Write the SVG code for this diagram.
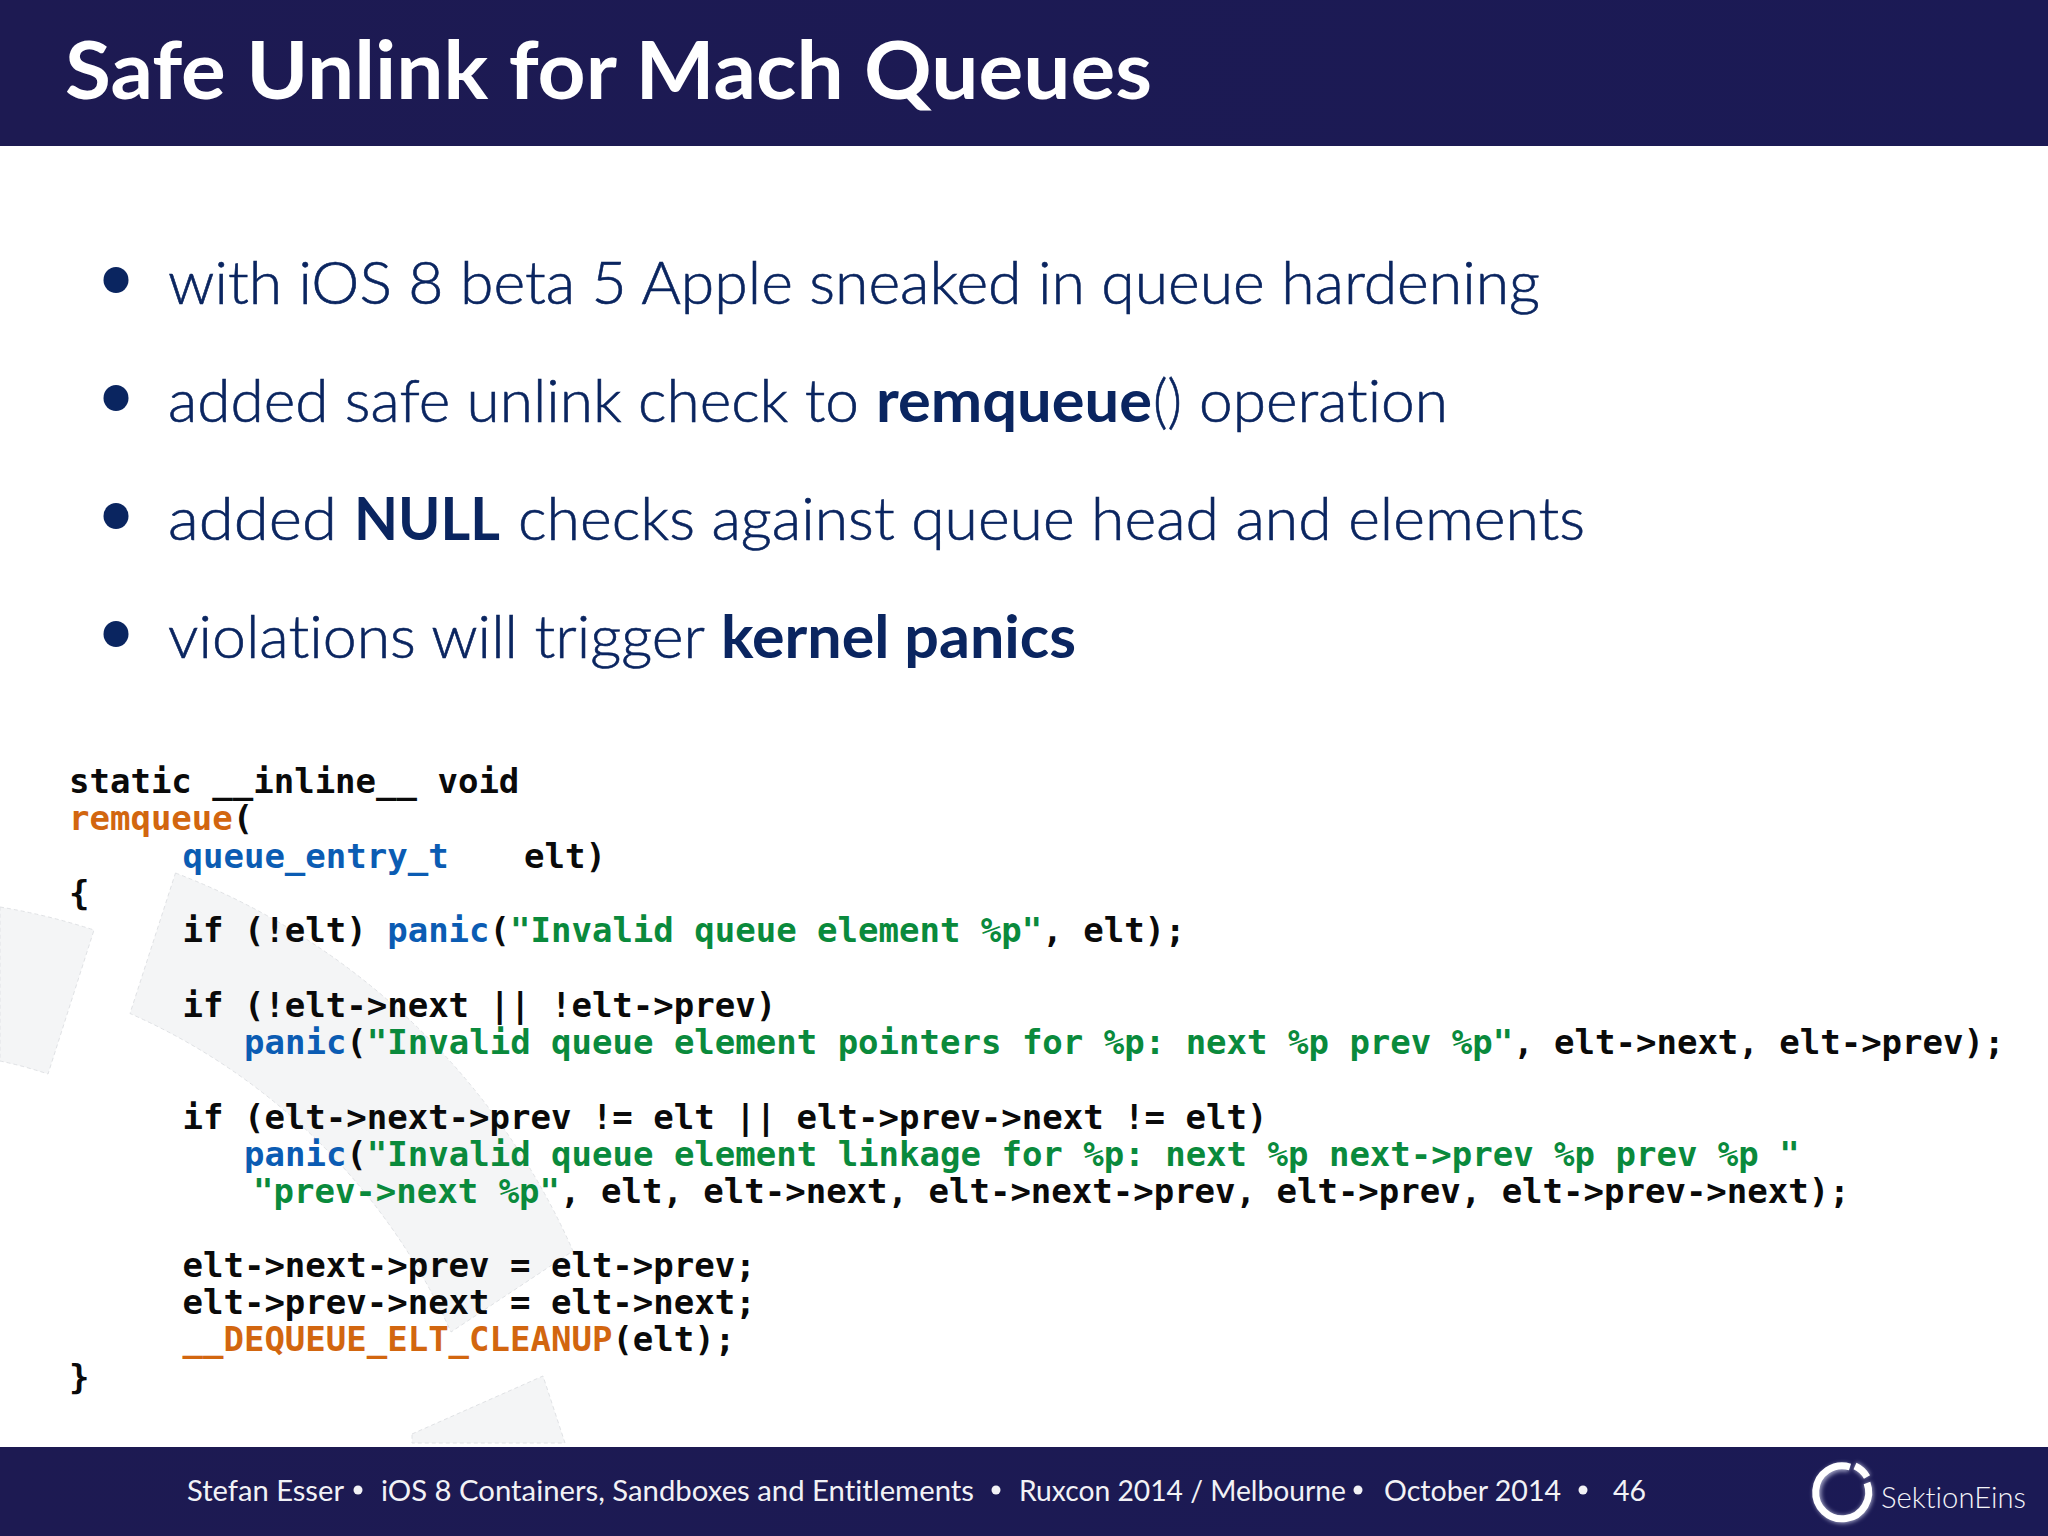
<svg xmlns="http://www.w3.org/2000/svg" width="2048" height="1536" viewBox="0 0 2048 1536">
<defs>
<linearGradient id="bar" x1="0" y1="0" x2="1" y2="0"><stop offset="0" stop-color="#1d1a52"/><stop offset="1" stop-color="#1b1a55"/></linearGradient>
<filter id="glow" x="-30%" y="-30%" width="160%" height="160%"><feGaussianBlur stdDeviation="2"/></filter>
</defs>
<style>
.t{font-family:"Lato","Liberation Sans",sans-serif;font-variant-ligatures:none}
.b{font-size:60px;fill:#0a2560;font-weight:300;stroke:#0a2560;stroke-width:.6;white-space:pre}
.s{font-weight:700;stroke:none}
.c{font-family:"DejaVu Sans Mono","Liberation Mono",monospace;font-size:34px;font-weight:700;fill:#0a0a0a;white-space:pre}
.o{fill:#d2660f}.l{fill:#0b5cb3}.g{fill:#0a8a3c}
.f{font-size:28px;fill:#f2f2f6;font-weight:400}
.sh{fill:#f4f5f6;stroke:#e0e2e5;stroke-width:1;stroke-dasharray:4 3}
</style>
<rect width="2048" height="1536" fill="#fff"/>
<g id="watermark">
<path class="sh" d="M0 907Q48 915 94 930L48 1074Q24 1066 0 1061Z"/>
<path class="sh" d="M175.500 873A712 712 0 0 1 573 1251L451 1332A632 632 0 0 0 130 1013.500Z"/>
<path class="sh" d="M412 1434L543 1376L565 1443H412Z"/>
</g>
<g id="header">
<rect width="2048" height="146" fill="url(#bar)"/>
<text class="t" x="65" y="99" font-size="80" font-weight="700" fill="#fff" textLength="1087" lengthAdjust="spacingAndGlyphs">Safe Unlink for Mach Queues</text>
</g>
<g id="bullets">
<ellipse cx="116" cy="280" rx="12.5" ry="13" fill="#0a2560"/>
<ellipse cx="116" cy="398" rx="12.5" ry="13" fill="#0a2560"/>
<ellipse cx="116" cy="516" rx="12.5" ry="13" fill="#0a2560"/>
<ellipse cx="116" cy="634" rx="12.5" ry="13" fill="#0a2560"/>
<text class="t b" x="168" y="304" textLength="1372" lengthAdjust="spacingAndGlyphs">with iOS 8 beta 5 Apple sneaked in queue hardening</text>
<text class="t b" x="168" y="422" textLength="691" lengthAdjust="spacingAndGlyphs">added safe unlink check to</text>
<text class="t b s" x="876" y="422" textLength="276" lengthAdjust="spacingAndGlyphs">remqueue</text>
<text class="t b" x="1153" y="422" textLength="29" lengthAdjust="spacingAndGlyphs">()</text>
<text class="t b" x="1199" y="422" textLength="249" lengthAdjust="spacingAndGlyphs">operation</text>
<text class="t b" x="168" y="540" textLength="169" lengthAdjust="spacingAndGlyphs">added</text>
<text class="t b s" x="354" y="540" textLength="146" lengthAdjust="spacingAndGlyphs">NULL</text>
<text class="t b" x="518" y="540" textLength="1067" lengthAdjust="spacingAndGlyphs">checks against queue head and elements</text>
<text class="t b" x="168" y="658" textLength="537" lengthAdjust="spacingAndGlyphs">violations will trigger</text>
<text class="t b s" x="721" y="658" textLength="355" lengthAdjust="spacingAndGlyphs">kernel panics</text>
</g>
<g id="code">
<text class="c" x="69" y="793">static __inline__ void</text>
<text class="c" x="69" y="830"><tspan class="o">remqueue</tspan>(</text>
<text class="c" x="182.500" y="867.500"><tspan class="l">queue_entry_t</tspan></text>
<text class="c" x="524" y="867.500">elt)</text>
<text class="c" x="69" y="905">{</text>
<text class="c" x="182.500" y="942">if (!elt) <tspan class="l">panic</tspan>(<tspan class="g">"Invalid queue element %p"</tspan>, elt);</text>
<text class="c" x="182.500" y="1016.500">if (!elt->next || !elt->prev)</text>
<text class="c" x="244" y="1053.500"><tspan class="l">panic</tspan>(<tspan class="g">"Invalid queue element pointers for %p: next %p prev %p"</tspan>, elt->next, elt->prev);</text>
<text class="c" x="182.500" y="1128.500">if (elt->next->prev != elt || elt->prev->next != elt)</text>
<text class="c" x="244" y="1165.500"><tspan class="l">panic</tspan>(<tspan class="g">"Invalid queue element linkage for %p: next %p next->prev %p prev %p "</tspan></text>
<text class="c" x="253" y="1202.500"><tspan class="g">"prev->next %p"</tspan>, elt, elt->next, elt->next->prev, elt->prev, elt->prev->next);</text>
<text class="c" x="182.500" y="1277">elt->next->prev = elt->prev;</text>
<text class="c" x="182.500" y="1314">elt->prev->next = elt->next;</text>
<text class="c" x="182.500" y="1351"><tspan class="o">__DEQUEUE_ELT_CLEANUP</tspan>(elt);</text>
<text class="c" x="69" y="1388.500">}</text>
</g>
<g id="footer">
<rect y="1447" width="2048" height="89" fill="url(#bar)"/>
<text class="t f" x="187" y="1500.500" textLength="157" lengthAdjust="spacingAndGlyphs">Stefan Esser</text>
<circle cx="358" cy="1490" r="4.500" fill="#f2f2f6"/>
<text class="t f" x="381" y="1500.500" textLength="593" lengthAdjust="spacingAndGlyphs">iOS 8 Containers, Sandboxes and Entitlements</text>
<circle cx="996" cy="1490" r="4.500" fill="#f2f2f6"/>
<text class="t f" x="1019" y="1500.500" textLength="327" lengthAdjust="spacingAndGlyphs">Ruxcon 2014 / Melbourne</text>
<circle cx="1358" cy="1490" r="4.500" fill="#f2f2f6"/>
<text class="t f" x="1384" y="1500.500" textLength="177" lengthAdjust="spacingAndGlyphs">October 2014</text>
<circle cx="1583" cy="1490" r="4.500" fill="#f2f2f6"/>
<text class="t f" x="1613" y="1500.500" textLength="33" lengthAdjust="spacingAndGlyphs">46</text>
</g>
<g id="logo">
<g fill="none" stroke="#d9dcf2" stroke-width="8" filter="url(#glow)" opacity=".7">
<path d="M1849 1468A26 26 0 1 0 1867 1483"/>
<path d="M1855 1466A26 26 0 0 1 1867 1477"/>
</g>
<g fill="none" stroke="#fff" stroke-width="7">
<path d="M1850 1467A26.500 26.500 0 1 0 1867 1483"/>
<path d="M1855 1466A26.500 26.500 0 0 1 1867 1477"/>
</g>
<text class="t" x="1881" y="1508" font-size="30" font-weight="300" fill="#f4f4f8" textLength="145" lengthAdjust="spacingAndGlyphs">SektionEins</text>
</g>
</svg>
